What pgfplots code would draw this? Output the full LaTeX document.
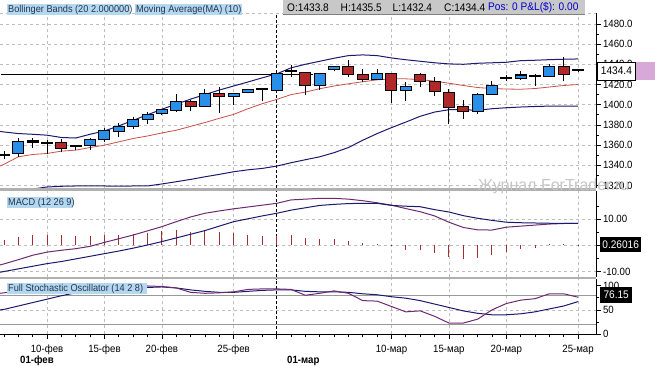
\documentclass[border=0pt]{standalone}
\usepackage{pgfplots}
\pgfplotsset{compat=1.18}
\usepackage{pgfplotstable}
\usepackage{fontspec}
\setmainfont{Liberation Sans}[FakeStretch=0.92]
\newfontfamily\wmfont{Liberation Sans}
\definecolor{bbnavy}{HTML}{1A1A6E}
\definecolor{marred}{HTML}{C8504A}
\definecolor{upblue}{HTML}{2A8FE8}
\definecolor{dnred}{HTML}{B02828}
\definecolor{macdpur}{HTML}{6E2A6E}
\definecolor{sepgray}{HTML}{B0B0B0}
\definecolor{gridgray}{HTML}{BEBEBE}
\definecolor{hlblue}{HTML}{B4D8F0}
\definecolor{hdrgray}{HTML}{C8C8C8}
\definecolor{plumbox}{HTML}{D8A8D8}
\definecolor{histred}{HTML}{A03030}
\definecolor{lbltext}{HTML}{24364E}

\pgfplotstableread{
x o h l c
1 1351.7 1367.5 1348.4 1363.5
6 1359.6 1367.5 1355.0 1365.5
7 1366.1 1377.0 1363.5 1373.7
8 1374.4 1381.9 1368.1 1377.6
9 1378.6 1387.8 1376.3 1384.5
10 1386.2 1392.7 1381.0 1390.1
11 1392.1 1396.0 1389.5 1394.7
12 1395.1 1410.8 1392.7 1402.3
14 1398.3 1415.8 1397.7 1410.8
16 1408.2 1410.8 1400.0 1410.8
17 1412.1 1414.5 1411.5 1414.1
19 1414.8 1431.2 1414.1 1429.9
22 1419.7 1431.5 1414.8 1430.5
23 1435.5 1437.4 1433.1 1437.4
26 1425.6 1435.5 1424.0 1430.5
28 1414.8 1422.3 1403.6 1418.0
33 1393.4 1411.8 1391.1 1409.9
34 1410.8 1423.0 1409.9 1418.4
36 1426.6 1433.1 1424.6 1428.9
38 1428.0 1440.3 1427.2 1437.1
}\upc

\pgfplotstableread{
x o h l c
4 1361.6 1365.8 1353.3 1357.6
13 1402.7 1405.0 1393.4 1398.6
15 1410.8 1417.4 1391.8 1408.2
21 1431.5 1432.8 1409.9 1419.7
24 1437.4 1444.6 1427.2 1430.5
25 1429.6 1435.5 1422.3 1425.6
27 1430.5 1430.5 1402.0 1414.8
29 1429.6 1431.5 1417.4 1423.0
30 1422.3 1427.9 1408.2 1413.1
31 1411.8 1415.8 1380.5 1397.7
32 1398.0 1404.2 1386.2 1393.4
39 1437.1 1447.2 1423.3 1430.5
}\dnc

\pgfplotstableread{
x o h l c
0 1350.0 1354.0 1346.0 1350.3
2 1363.8 1367.5 1357.6 1363.4
3 1361.8 1365.5 1350.7 1361.5
5 1358.9 1359.5 1355.0 1358.8
18 1415.1 1415.5 1403.6 1415.3
20 1433.0 1439.4 1427.2 1433.4
35 1426.6 1429.6 1423.3 1426.6
37 1428.2 1430.5 1418.3 1428.4
40 1433.8 1435.5 1432.4 1434.4
}\dojic

\pgfplotstableread{
x up ma lo
-0.279 1373.5 1339.2 1311.0
0 1373.0 1341.0 1312.0
1 1371.4 1348.4 1314.0
2 1370.7 1350.7 1316.5
3 1369.8 1351.7 1318.5
4 1367.5 1354.0 1319.2
5 1367.0 1355.0 1319.5
6 1370.7 1357.6 1319.5
7 1374.0 1359.9 1319.5
8 1379.0 1363.2 1319.3
9 1384.5 1366.5 1319.5
10 1390.0 1369.0 1319.5
11 1395.5 1372.0 1321.5
12 1400.5 1374.7 1323.7
13 1405.5 1378.5 1326.0
14 1410.0 1382.3 1328.6
15 1414.5 1386.5 1331.0
16 1418.5 1390.4 1333.6
17 1422.5 1396.0 1335.5
18 1426.6 1401.0 1336.9
19 1430.5 1405.2 1339.2
20 1436.5 1410.0 1342.5
21 1440.0 1412.5 1345.5
22 1443.0 1415.8 1348.4
23 1446.0 1418.5 1352.5
24 1448.6 1420.7 1357.6
25 1449.3 1422.7 1364.8
26 1448.6 1424.6 1371.4
27 1446.3 1425.6 1377.3
28 1444.5 1425.6 1382.8
29 1443.0 1424.9 1388.5
30 1441.5 1423.3 1392.7
31 1440.4 1421.3 1395.0
32 1440.0 1419.0 1395.0
33 1441.0 1417.0 1394.5
34 1441.5 1416.0 1396.0
35 1442.0 1415.5 1397.0
36 1443.6 1415.3 1397.7
37 1444.0 1416.0 1398.2
38 1444.6 1417.5 1398.6
39 1445.0 1419.0 1398.6
40 1445.3 1420.0 1398.6
}\bands

\pgfplotstableread{
x macd sig hist k d
-0.279 -7.5 -10.3 0 84 50
0 -7.1 -10.0 1.9 85 51
1 -5.5 -9.0 3.2 90 58
2 -3.8 -8.0 3.8 94 65
3 -2.6 -7.0 4.1 95 72
4 -1.9 -6.2 3.8 96 79
5 -1.3 -5.2 3.4 97 85
6 -0.4 -4.2 3.4 98 90
7 1.1 -3.2 3.8 98 93
8 2.5 -2.2 4.1 99 95
9 3.9 -1.1 4.2 99 96
10 5.5 0.1 4.5 99 96
11 7.1 1.4 5.5 98 97
12 9.0 2.8 5.7 95 95
13 10.8 4.2 5.1 86 91
14 12.2 5.6 5.5 84 88
15 13.1 7.3 5.1 85 86
16 13.9 9.0 4.7 87 86
17 14.6 10.1 4.1 92 88
18 15.3 11.2 3.4 93 90
19 16.0 12.2 3.6 93 91
20 17.3 13.4 3.8 92 91
21 17.6 14.3 2.9 80 88
22 17.9 15.2 2.5 84 87
23 17.9 15.6 2.5 89 87
24 17.6 15.9 1.5 84 86
25 17.0 16.0 1.0 69 83
26 16.2 16.0 0.3 68 81
27 15.3 15.2 -0.3 57 77
28 14.0 14.9 -1.7 46 74
29 12.8 14.7 -1.9 48 69
30 11.2 13.6 -3.0 37 62
31 8.8 12.7 -4.3 23 55
32 6.8 11.3 -5.1 23 48
33 5.9 10.3 -4.8 31 43
34 5.8 9.5 -3.8 50 40
35 6.9 8.8 -2.5 63 40
36 7.3 8.6 -1.3 70 42
37 7.7 8.5 -1.0 73 46
38 8.1 8.4 0.3 83 52
39 8.3 8.4 0.3 83 58
40 8.4 8.4 0.26 76 67
}\osc

\pgfplotsset{
  panel/.style={
    anchor=north west, width=596pt, scale only axis,
    xmin=-0.279, xmax=41.25,
    axis line style={draw=none},
    xtick={3,7,11,16,27,31,35,40},
    extra x ticks={19}, extra x tick labels={},
    extra x tick style={grid style={black, dash pattern=on 3pt off 2pt, line width=0.9pt}},
    ytick pos=right, tick align=outside,
    major tick length=5pt, minor tick length=3pt,
    tick style={black, line width=0.7pt},
    grid style={gridgray, dash pattern=on 3pt off 3pt, line width=0.6pt},
    tick label style={font=\fontsize{10.5}{12}\selectfont},
    yticklabel style={xshift=-1.5pt},
    clip mode=individual,
  },
  wick/.style={draw=none, mark=none, error bars/.cd, y dir=plus, y explicit,
    error mark=none, error bar style={draw=black, line width=1pt}},
  body/.style 2 args={draw=none, mark=none, error bars/.cd, y dir=both, y explicit,
    error mark=none, error bar style={draw=#1, line width=#2}},
}

\begin{document}
\begin{tikzpicture}
\useasboundingbox (0pt,0pt) rectangle (655pt,-366pt);

% ---------- price panel ----------
\begin{axis}[panel, at={(0pt,-13pt)}, height=175pt,
  ymin=1317.5, ymax=1490.8,
  xticklabels={}, xtick style={draw=none},
  ytick={1320,1340,1360,1380,1400,1420,1440,1460,1480},
  yticklabels={1320.0,1340.0,1360.0,1380.0,1400.0,1420.0,1440.0,1460.0,1480.0},
  minor ytick={1330,1350,1370,1390,1410,1430,1450,1470},
  grid=major]
\draw[gridgray, dash pattern=on 3pt off 3pt, line width=0.6pt] (rel axis cs:0,1) -- (rel axis cs:1,1);
\addplot[bbnavy, line width=1pt] table[x=x, y=up] {\bands};
\addplot[bbnavy, line width=1pt] table[x=x, y=lo] {\bands};
\addplot[marred, line width=0.8pt] table[x=x, y=ma] {\bands};
\addplot[black, line width=1pt] coordinates {(-0.2,1430) (21.5,1430)};
% wicks
\addplot[wick] table[x=x, y=l, y error expr=\thisrow{h}-\thisrow{l}] {\upc};
\addplot[wick] table[x=x, y=l, y error expr=\thisrow{h}-\thisrow{l}] {\dnc};
\addplot[wick] table[x=x, y=l, y error expr=\thisrow{h}-\thisrow{l}] {\dojic};
% bodies
\addplot[body={black}{12pt}] table[x=x, y expr={(\thisrow{o}+\thisrow{c})/2}, y error expr={abs(\thisrow{c}-\thisrow{o})/2+1}] {\upc};
\addplot[body={upblue}{10pt}] table[x=x, y expr={(\thisrow{o}+\thisrow{c})/2}, y error expr={abs(\thisrow{c}-\thisrow{o})/2}] {\upc};
\addplot[body={black}{12pt}] table[x=x, y expr={(\thisrow{o}+\thisrow{c})/2}, y error expr={abs(\thisrow{c}-\thisrow{o})/2+1}] {\dnc};
\addplot[body={dnred}{10pt}] table[x=x, y expr={(\thisrow{o}+\thisrow{c})/2}, y error expr={abs(\thisrow{c}-\thisrow{o})/2}] {\dnc};
\addplot[body={black}{12pt}] table[x=x, y expr={(\thisrow{o}+\thisrow{c})/2}, y error expr={abs(\thisrow{c}-\thisrow{o})/2+0.9}] {\dojic};
\draw[black, line width=0.8pt] (rel axis cs:1,0) -- (rel axis cs:1,1);
\end{axis}

% ---------- MACD panel ----------
\begin{axis}[panel, at={(0pt,-191pt)}, height=86pt,
  ymin=-12.1, ymax=20.7,
  xticklabels={}, xtick style={draw=none},
  ytick={-10,0,10}, yticklabels={-10.00,,10.00},
  minor ytick={-5,5,15},
  grid=major]
\addplot[ycomb, histred, line width=1pt] table[x=x, y=hist] {\osc};
\addplot[macdpur, line width=1pt] table[x=x, y=macd] {\osc};
\addplot[bbnavy, line width=1pt] table[x=x, y=sig] {\osc};
\draw[black, line width=0.8pt] (rel axis cs:1,0) -- (rel axis cs:1,1);
\end{axis}

% ---------- Stochastic panel ----------
\begin{axis}[panel, at={(0pt,-279pt)}, height=55.3pt,
  ymin=0, ymax=113.3,
  xticklabels={10-фев,15-фев,20-фев,25-фев,10-мар,15-мар,20-мар,25-мар},
  minor xtick={0,1,2,4,5,6,8,9,10,12,13,14,15,17,18,20,21,22,23,24,25,26,28,29,30,32,33,34,36,37,38,39},
  xtick pos=left,
  ytick={0,50,100}, yticklabels={0,50,100},
  minor ytick={25,75},
  xmajorgrids=true, ymajorgrids=false,
  xticklabel style={yshift=-2pt}]
\draw[gray!80, line width=0.8pt] ({rel axis cs:0,0}|-{axis cs:0,80}) -- ({rel axis cs:1,0}|-{axis cs:0,80});
\draw[gray!80, line width=0.8pt] ({rel axis cs:0,0}|-{axis cs:0,20}) -- ({rel axis cs:1,0}|-{axis cs:0,20});
\draw[gridgray, dash pattern=on 3pt off 3pt, line width=0.6pt] ({rel axis cs:0,0}|-{axis cs:0,50}) -- ({rel axis cs:1,0}|-{axis cs:0,50});
\addplot[bbnavy, line width=1pt] table[x=x, y=d] {\osc};
\addplot[macdpur, line width=1pt] table[x=x, y=k] {\osc};
\draw[black, line width=0.8pt] (rel axis cs:0,0) -- (rel axis cs:1,0);
\draw[black, line width=0.8pt] (rel axis cs:1,0) -- (rel axis cs:1,1);
\end{axis}

% separators
\fill[sepgray] (0pt,-188.4pt) rectangle (596pt,-191pt);
\fill[sepgray] (0pt,-276.6pt) rectangle (596pt,-279pt);

% header
\fill[hlblue] (7pt,-4pt) rectangle (130pt,-15pt);
\node[anchor=west, inner sep=0pt, text=lbltext, font=\fontsize{10}{12}\selectfont] at (8pt,-9.6pt) {Bollinger Bands (20 2.000000)};
\fill[hlblue] (135pt,-4pt) rectangle (242pt,-15pt);
\node[anchor=west, inner sep=0pt, text=lbltext, font=\fontsize{10}{12}\selectfont] at (136pt,-9.6pt) {Moving Average(MA) (10)};
\fill[hdrgray] (283pt,0pt) rectangle (585pt,-14.5pt);
\draw[gray, line width=0.6pt] (283pt,-14.5pt) -- (585pt,-14.5pt);
\begin{scope}[every node/.style={anchor=west, inner sep=0pt, font=\fontsize{11}{13}\selectfont}]
\node at (287pt,-7.5pt) {O:1433.8};
\node at (340.5pt,-7.5pt) {H:1435.5};
\node at (392.5pt,-7.5pt) {L:1432.4};
\node at (444pt,-7.5pt) {C:1434.4};
\node[text=blue!80!black] at (488pt,-7.5pt) {Pos: 0 P\&L(\$): 0.00};
\end{scope}

% panel labels
\fill[hlblue] (7pt,-197pt) rectangle (73pt,-208pt);
\node[anchor=west, inner sep=0pt, text=lbltext, font=\fontsize{10}{12}\selectfont] at (8pt,-202.6pt) {MACD (12 26 9)};
\fill[hlblue] (7pt,-283pt) rectangle (147pt,-294pt);
\node[anchor=west, inner sep=0pt, text=lbltext, font=\fontsize{10}{12}\selectfont] at (8pt,-288.6pt) {Full Stochastic Oscillator (14 2 8)};

% value boxes
\fill[plumbox] (635pt,-62pt) rectangle (655pt,-80pt);
\node[draw=black, line width=0.8pt, fill=white, anchor=west, inner sep=0pt, minimum width=38pt, minimum height=18pt, font=\fontsize{11}{13}\selectfont] at (597pt,-71pt) {1434.4};
\node[fill=black, text=white, anchor=west, inner sep=0pt, minimum width=41pt, minimum height=15pt, font=\fontsize{11}{13}\selectfont] at (600pt,-244.5pt) {0.26016};
\node[fill=black, text=white, anchor=west, inner sep=0pt, minimum width=32pt, minimum height=16pt, font=\fontsize{11}{13}\selectfont] at (600pt,-295pt) {76.15};

% bold month labels
\node[anchor=west, inner sep=0pt, font=\bfseries\fontsize{10.5}{12}\selectfont] at (20pt,-361pt) {01-фев};
\node[anchor=west, inner sep=0pt, font=\bfseries\fontsize{10.5}{12}\selectfont] at (287pt,-361pt) {01-мар};

% watermark
\node[anchor=west, inner sep=0pt, text=gray!45, font=\wmfont\fontsize{16}{18}\selectfont] at (478pt,-186pt) {Журнал ForTrader.ru};
\end{tikzpicture}
\end{document}
